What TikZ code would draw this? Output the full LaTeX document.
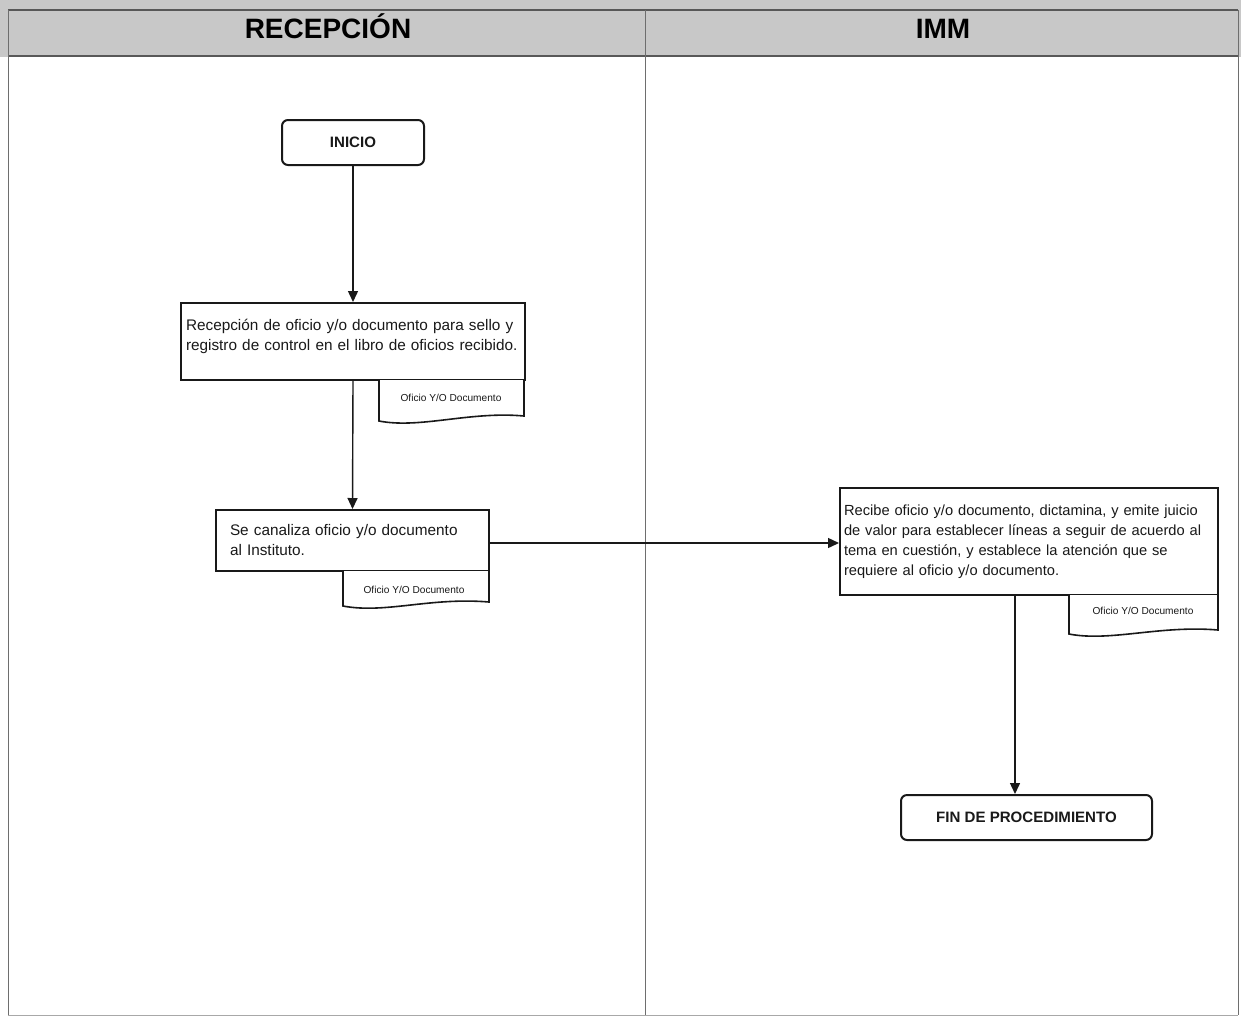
\documentclass[tikz,border=0pt]{standalone}
\usepackage{fontspec}
\setmainfont{Liberation Sans}
\usetikzlibrary{arrows.meta}
\newdimen\px \px=0.75pt
\definecolor{hdrgray}{RGB}{200,200,200}
\definecolor{lanegray}{RGB}{110,110,110}
\definecolor{inkdark}{RGB}{25,25,25}
\begin{document}
\begin{tikzpicture}[x=0.75pt,y=-0.75pt,
  lane/.style={draw=lanegray, line width=1\px},
  hdrline/.style={draw=lanegray!80!black, line width=2\px},
  hdrtext/.style={font=\fontsize{21pt}{23pt}\selectfont\bfseries, text=black, anchor=base},
  terminal/.style={draw=inkdark, line width=2\px, rounded corners=6\px, fill=white,
    font=\fontsize{11.3pt}{13pt}\selectfont\bfseries, text=inkdark},
  procbox/.style={draw=inkdark, line width=2\px, fill=white, align=left,
    font=\fontsize{11.5pt}{15pt}\selectfont, text=inkdark, inner ysep=0pt},
  docshape/.style={draw=inkdark, line width=1.6\px, fill=white},
  doctext/.style={font=\fontsize{7.6pt}{8pt}\selectfont, text=inkdark, inner sep=0pt},
  flow/.style={draw=inkdark, line width=1.4\px,
    -{Triangle[length=8.25pt, width=7.5pt]}}
]
\useasboundingbox (0,0) rectangle (1241,1018);
\fill[white] (0,0) rectangle (1241,1018);

% header band and swimlane frame
\fill[hdrgray] (0,0) rectangle (1241,57);
\draw[hdrline] (8,10) -- (1238,10);
\draw[hdrline] (8,56) -- (1238,56);
\draw[lane] (8,10) -- (8,1015);
\draw[lane] (645,10) -- (645,1015);
\draw[lane] (1238,10) -- (1238,1015);
\draw[draw=lanegray!60, line width=1\px] (8,1015) -- (1238,1015);
\node[hdrtext] (h1) at (328,38) {RECEPCIÓN};
\node[hdrtext] (h2) at (943,38) {IMM};

% start
\node[terminal, minimum width=142\px, minimum height=45\px] (inicio) at (353,142.5) {INICIO};

% step 1
\node[procbox, minimum width=344\px, minimum height=77\px, text width=334\px,
  inner xsep=5\px, text depth=25pt] (p1) at (353,341.5)
  {Recepción de oficio y/o documento para sello y\\registro de control en el libro de oficios recibido.};
\draw[docshape] (379,380) -- (379,421)
  .. controls (420,429) and (470,411) .. (524,416) -- (524,380);
\node[doctext] (d1) at (451,398) {Oficio Y/O Documento};

% step 2
\node[procbox, minimum width=273\px, minimum height=61\px, text width=245\px,
  inner xsep=14\px] (p2) at (352.5,540.5)
  {Se canaliza oficio y/o documento\\al Instituto.};
\draw[docshape] (343,571) -- (343,606)
  .. controls (385,614) and (430,597) .. (489,602) -- (489,571);
\node[doctext] (d2) at (414,590) {Oficio Y/O Documento};

% step 3
\node[procbox, minimum width=378\px, minimum height=107\px, text width=370\px,
  inner xsep=4\px, font=\fontsize{11pt}{15pt}\selectfont] (p3) at (1029,541.5)
  {Recibe oficio y/o documento, dictamina, y emite juicio\\de valor para establecer líneas a seguir de acuerdo al\\tema en cuestión, y establece la atención que se\\requiere al oficio y/o documento.};
\draw[docshape] (1069,595) -- (1069,634)
  .. controls (1110,642) and (1160,625) .. (1218,630) -- (1218,595);
\node[doctext] (d3) at (1143,611) {Oficio Y/O Documento};

% end
\node[terminal, minimum width=251\px, minimum height=45\px] (fin) at (1026.5,817.5) {FIN DE PROCEDIMIENTO};

% connectors
\coordinate (j3) at (1015,595);
\coordinate (j2) at (489,543);
\draw[flow] (inicio.south) -- (p1.north);
\draw[flow] (p1.south) -- (p2.north);
\draw[flow] (j2) -- (j2 -| p3.west);
\draw[flow] (j3) -- (j3 |- fin.north);
\end{tikzpicture}
\end{document}
